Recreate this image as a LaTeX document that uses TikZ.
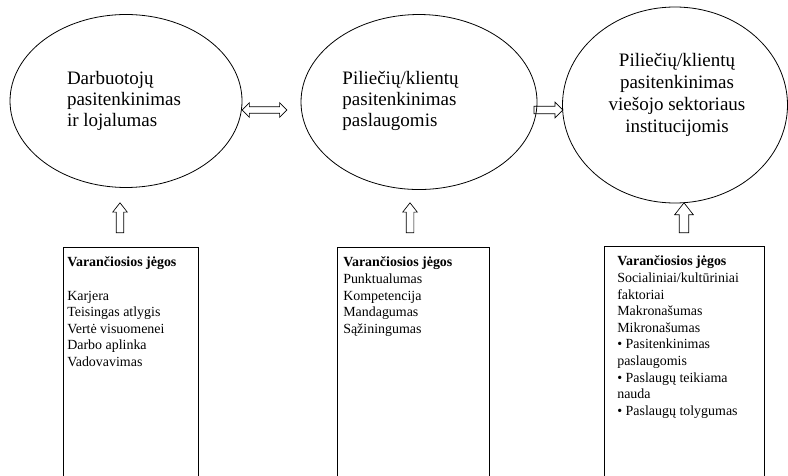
\documentclass[tikz,border=0pt]{standalone}
\usepackage{fontspec}
\setmainfont{Liberation Serif}
\usetikzlibrary{shapes.geometric,shapes.arrows,positioning}
\tikzset{
  oval/.style={draw, ellipse, line width=0.6pt, inner sep=0pt},
  ovaltext/.style={align=left, font=\fontsize{14.3}{15.7}\selectfont, inner sep=0pt},
  forcebox/.style={draw, rectangle, line width=0.6pt, anchor=north west, minimum height=6.2cm, inner sep=0pt},
  forcetext/.style={align=left, font=\fontsize{10.5}{12.5}\selectfont, inner sep=0pt},
  uparr/.style={draw, single arrow, rotate=90, anchor=tail, minimum height=22.5pt, inner xsep=0pt, inner ysep=2.625pt, single arrow head extend=2.625pt, single arrow tip angle=76, line width=0.5pt},
  rightarr/.style={draw, single arrow, minimum height=21.75pt, inner xsep=0pt, inner ysep=2.625pt, single arrow head extend=3pt, line width=0.5pt},
  duoarr/.style={draw, double arrow, minimum height=33.75pt, inner xsep=0pt, inner ysep=2.25pt, double arrow head extend=3pt, line width=0.5pt}
}
\begin{document}
\begin{tikzpicture}
      \useasboundingbox (0,0) rectangle (20.849,-12.568);
      \clip (0,0) rectangle (20.849,-12.568);

      \node[oval, minimum width=6.138cm, minimum height=4.577cm] (E1) at (3.334,-2.672) {};
      \node[oval, minimum width=6.244cm, minimum height=4.630cm] (E2) at (11.086,-2.699) {};
      \node[oval, minimum width=5.953cm, minimum height=5.186cm] (E3) at (17.859,-2.778) {};

      \node[ovaltext] (T1) at (3.281,-2.672) {Darbuotojų\\pasitenkinimas\\ir lojalumas};
      \node[ovaltext] (T2) at (10.596,-2.672) {Piliečių/klientų\\pasitenkinimas\\paslaugomis};
      \node[ovaltext, align=center, font=\fontsize{14.3}{16.5}\selectfont] (T3) at (17.912,-2.514) {Piliečių/klientų\\pasitenkinimas\\viešojo sektoriaus\\institucijomis};

      \node[duoarr] (D1) at (6.998,-2.910) {};
      \node[rightarr] (R1) at (14.459,-2.910) {};

      \node[uparr] (U1) at (3.175,-6.165) {};
      \node[uparr] (U2) at (10.848,-6.165) {};
      \node[uparr, inner ysep=3.375pt, single arrow head extend=3.375pt] (U3) at (18.097,-6.165) {};

      \node[forcebox, minimum width=3.572cm] (B1) at (1.667,-6.535) {};
      \node[forcebox, minimum width=4.022cm] (B2) at (8.916,-6.535) {};
      \node[forcebox, minimum width=4.233cm] (B3) at (15.981,-6.509) {};

      \node[forcetext, below right=0.26cm and 0.106cm of B1.north west] (L1) {\textbf{Varančiosios jėgos}\\[12.5pt]Karjera\\Teisingas atlygis\\Vertė visuomenei\\Darbo aplinka\\Vadovavimas};
      \node[forcetext, below right=0.26cm and 0.159cm of B2.north west] (L2) {\textbf{Varančiosios jėgos}\\Punktualumas\\Kompetencija\\Mandagumas\\Sąžiningumas};
      \node[forcetext, below right=0.26cm and 0.344cm of B3.north west] (L3) {\textbf{Varančiosios jėgos}\\Socialiniai/kultūriniai\\faktoriai\\Makronašumas\\Mikronašumas\\• Pasitenkinimas\\paslaugomis\\• Paslaugų teikiama\\nauda\\• Paslaugų tolygumas};
    \end{tikzpicture}
\end{document}
